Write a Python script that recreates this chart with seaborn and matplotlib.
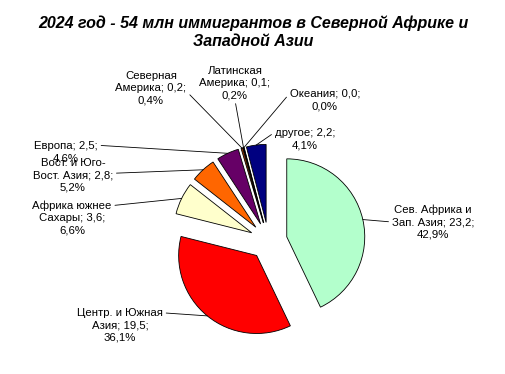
import numpy as np
import matplotlib
matplotlib.use('Agg')
import matplotlib.pyplot as plt
import seaborn as sns

# data (млн человек и доля, %)
regions = ['Сев. Африка и\nЗап. Азия', 'Центр. и Южная\nАзия', 'Африка южнее\nСахары',
           'Вост. и Юго-\nВост. Азия', 'Европа', 'Северная\nАмерика', 'Латинская\nАмерика',
           'Океания', 'другое']
values = [23.2, 19.5, 3.6, 2.8, 2.5, 0.2, 0.1, 0.0, 2.2]
shares = [42.9, 36.1, 6.6, 5.2, 4.6, 0.4, 0.2, 0.0, 4.1]
colors = ['#B3FFCC', '#FF0000', '#FFFFCC', '#FF6600', '#660066',
          '#993300', '#CC3300', '#000000', '#000080']

# label centres in pixels from the top-left corner and where the leader line leaves the text
label_px = [(433, 222), (120, 325), (72, 218), (73, 175), (66, 152),
            (151, 88), (235, 83), (325, 100), (305, 139)]
rel_pos = [(0.0, 0.5), (1.0, 0.85), (1.0, 0.85), (1.0, 0.55), (1.0, 0.8),
           (1.0, 0.4), (0.5, 0.0), (0.0, 0.8), (0.0, 0.8)]

sns.set_theme(style='white')
plt.rcParams['font.family'] = ['Liberation Sans', 'DejaVu Sans']

W, H = 506, 374
fig = plt.figure(figsize=(W / 100, H / 100), dpi=100)
ax = fig.add_axes([0, 0, 1, 1])

wedges, _ = ax.pie(values, colors=colors, startangle=90, counterclock=False,
                   explode=[0.24] * len(values), normalize=True,
                   wedgeprops=dict(edgecolor='black', linewidth=0.6))

# 1 data unit = 78 px, pie centre at (268.5, 241) px
scale, cx, cy = 78.0, 268.5, 241.0
ax.set_aspect('auto')
ax.set_xlim(-cx / scale, (W - cx) / scale)
ax.set_ylim(-(H - cy) / scale, cy / scale)
ax.axis('off')

for i, w in enumerate(wedges):
    mid = np.deg2rad((w.theta1 + w.theta2) / 2)
    anchor = (w.center[0] + w.r * np.cos(mid), w.center[1] + w.r * np.sin(mid))
    v = f'{values[i]:.1f}'.replace('.', ',')
    p = f'{shares[i]:.1f}'.replace('.', ',')
    text = f'{regions[i]}; {v};\n{p}%'
    px, py = label_px[i]
    ax.annotate(text, xy=anchor, xycoords='data',
                xytext=(px / W, 1 - py / H), textcoords='figure fraction',
                ha='center', va='center', fontsize=8.2, linespacing=1.3, color='black',
                arrowprops=dict(arrowstyle='-', color='black', lw=0.6,
                                shrinkA=0, shrinkB=0, relpos=rel_pos[i]))

fig.text(0.5, 1 - 32 / H, '2024 год - 54 млн иммигрантов в Северной Африке и\nЗападной Азии',
         ha='center', va='center', fontsize=11.5, fontweight='bold', fontstyle='italic',
         linespacing=1.25, color='black')

fig.savefig('out.png', dpi=100, facecolor='white')
